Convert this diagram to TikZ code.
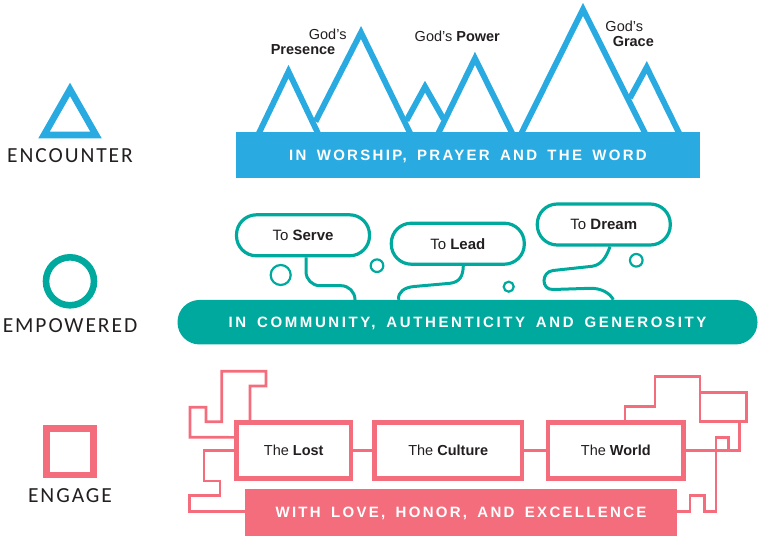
\documentclass[tikz,border=0pt]{standalone}
\usepackage{fontspec}
\setmainfont{Liberation Sans}
\newfontfamily\barfont[LetterSpace=15.3,WordSpace=1.6]{Liberation Sans}
\newfontfamily\widebarfont[LetterSpace=17.4,WordSpace=1.6]{Liberation Sans}
\newfontfamily\sidefont[LetterSpace=9]{Carlito}
\usepackage{tikz}
\usetikzlibrary{positioning}
\definecolor{skyblue}{HTML}{29ABE2}
\definecolor{tealgreen}{HTML}{00A99D}
\definecolor{rosepink}{HTML}{F46D7D}
\definecolor{inkdark}{HTML}{231F20}
\tikzset{
  peak/.style = {draw = skyblue, line width = 5.8pt},
  bubble/.style = {draw = tealgreen, line width = 2.2pt},
  wire/.style = {draw = tealgreen, line width = 3pt},
  trace/.style = {draw = rosepink, line width = 2.7pt},
  pillbox/.style = {draw = tealgreen, line width = 3.2pt, fill = white, rounded corners = 20pt, minimum width = 133pt, minimum height = 41pt, text = inkdark, font = \fontsize{15}{17}\selectfont},
  framebox/.style = {draw = rosepink, line width = 4.7pt, minimum height = 56pt, text = inkdark, font = \fontsize{14.5}{16}\selectfont, inner sep = 0pt},
  barlabel/.style = {text = white, inner sep = 0pt, text depth = 0pt, font = \fontsize{15}{17}\bfseries\barfont},
  sidelabel/.style = {text = inkdark, inner sep = 0pt, text depth = 0pt, font = \fontsize{21.5}{24}\sidefont},
  peaklabel/.style = {text = inkdark, inner sep = 0pt, font = \fontsize{14.5}{16}\selectfont}
}
\begin{document}
\begin{tikzpicture}[x = 1pt, y = -1pt]
    \useasboundingbox (0,0) rectangle (760,538);

    % left column
    \draw[skyblue, line width = 6.6pt] (44,135) -- (70,89.4) -- (96,135) -- cycle;
    \node[sidelabel] (encounter) at (70,155.5) {ENCOUNTER};
    \draw[tealgreen, line width = 6.6pt] (70,281.3) circle (24);
    \node[sidelabel] (empowered) at (70,326) {EMPOWERED};
    \draw[rosepink, line width = 6.6pt] (46.6,428.3) rectangle (93.4,475);
    \node[sidelabel] (engage) at (70,496) {ENGAGE};

    % mountains
    \draw[peak] (258.5,134) -- (288.5,71.5) -- (318.3,134);
    \draw[peak] (315.5,121.5) -- (361,32.5) -- (410.5,134);
    \draw[peak] (406.5,120.5) -- (425,86.7) -- (443.5,119);
    \draw[peak] (438,134) -- (475,58.3) -- (512.5,134);
    \draw[peak] (521,134) -- (583,9.3) -- (645.5,134);
    \draw[peak] (630,98) -- (646.7,67.3) -- (679.5,134);
    \node[fill = skyblue, minimum width = 464pt, minimum height = 46pt, inner sep = 0pt] (worship) at (468,155.3) {};
    \node[barlabel] at (worship.center) {IN WORSHIP, PRAYER AND THE WORD};
    \node[peaklabel] (godsa) at (327.7,34) {God’s};
    \node[peaklabel] (presence) at (303,50) {\textbf{Presence}};
    \node[peaklabel] (power) at (457.3,36.7) {God’s \textbf{Power}};
    \node[peaklabel] (godsb) at (624.3,26.7) {God’s};
    \node[peaklabel] (grace) at (633.3,41.7) {\textbf{Grace}};

    % community
    \node[fill = tealgreen, rounded corners = 22pt, minimum width = 580pt, minimum height = 44.5pt, inner sep = 0pt] (community) at (467.5,322.2) {};
    \node[barlabel, font = \fontsize{15}{17}\bfseries\widebarfont] at (community.center) {IN COMMUNITY, AUTHENTICITY AND GENEROSITY};
    \node[pillbox] (serve) at (303,235.3) {To \textbf{Serve}};
    \node[pillbox] (lead) at (457.8,243.7) {To \textbf{Lead}};
    \node[pillbox] (dream) at (603.8,224.5) {To \textbf{Dream}};
    \draw[wire, rounded corners = 14pt] ([xshift = 3pt]serve.south) -- (306,285.7) -- (355,285.7) -- ([xshift = -112.5pt]community.north);
    \draw[wire] ([xshift = 5.5pt]lead.south) .. controls (463,276) and (460,282) .. (450,283.3) -- (414,286.5) .. controls (404,287.5) and (398,292) .. ([xshift = -69pt]community.north);
    \draw[wire] ([xshift = 6.2pt]dream.south) .. controls (606,258) and (601,265) .. (592,266.3) -- (553,270.5) .. controls (541,272) and (541,290) .. (553,289.5) -- (590,288.3) .. controls (601,288) and (610,293) .. ([xshift = 145.8pt]community.north);
    \node[bubble, circle, minimum size = 20pt, inner sep = 0pt] (bubblea) at (280.7,275) {};
    \node[bubble, circle, minimum size = 12.6pt, inner sep = 0pt] (bubbleb) at (377,265.7) {};
    \node[bubble, circle, minimum size = 10pt, inner sep = 0pt] (bubblec) at (508.7,286.7) {};
    \node[bubble, circle, minimum size = 12.6pt, inner sep = 0pt] (bubbled) at (636.3,260.3) {};

    % engage
    \node[fill = rosepink, minimum width = 431.4pt, minimum height = 46.4pt, inner sep = 0pt] (love) at (461,512.5) {};
    \node[barlabel] at (love.center) {WITH LOVE, HONOR, AND EXCELLENCE};
    \node[framebox, minimum width = 114.6pt] (lost) at (293.7,450.35) {The \textbf{Lost}};
    \node[framebox, minimum width = 147.6pt] (culture) at (448.2,450.35) {The \textbf{Culture}};
    \node[framebox, minimum width = 135.6pt] (world) at (615.85,450.35) {The \textbf{World}};
    \draw[trace] (lost) -- (culture);
    \draw[trace] (culture) -- (world);
    \draw[trace] ([xshift = -43.7pt]lost.north) -- (250,386) -- (266,386) -- (266,371.3) -- (221.7,371.3) -- (221.7,421.7) -- (206,421.7) -- (206,407.3) -- (190,407.3) -- (190,437.3) -- ([yshift = 13pt]lost.west);
    \draw[trace] (lost.west) -- (204,450.35) -- (204,481) -- (220,481) -- (220,495.3) -- (189.3,495.3) -- (189.3,511.3) -- ([yshift = 1.2pt]love.west);
    \draw[trace] ([xshift = 9.15pt]world.north) -- (625,406.7) -- (655,406.7) -- (655,376.7) -- (700,376.7) -- (700,421.7) -- (746.7,421.7) -- (746.7,392.3) -- (700,392.3);
    \draw[trace] (739.3,421.7) -- (739.3,450.35) -- (world.east);
    \draw[trace] ([yshift = 1.2pt]love.east) -- (690,511.3) -- (690,495.7) -- (704.3,495.7) -- (704.3,511.3) -- (716,511.3) -- (716,437.3) -- (728.7,437.3) -- (728.7,450.35);
\end{tikzpicture}
\end{document}
